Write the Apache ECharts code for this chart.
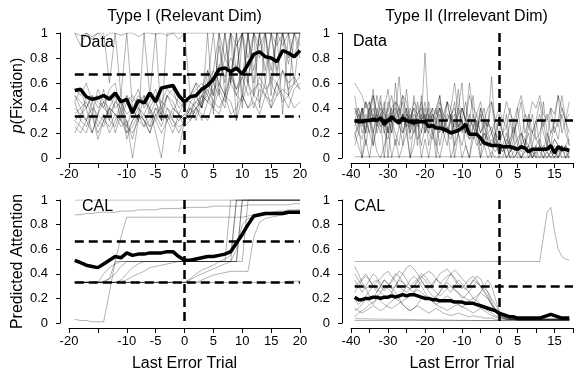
<!DOCTYPE html>
<html><head><meta charset="utf-8">
<script src="https://cdn.jsdelivr.net/npm/echarts@6/dist/echarts.min.js"></script>
<style>html,body{margin:0;padding:0;background:#fff}#c{width:576px;height:374px}</style>
</head><body><div id="c"></div>
<script>
// ---------- DATA ----------
const startTypeI = -19;   // first trial, Type I panels
const startTypeII = -39;  // first trial, Type II panels
const xTicksTypeI = [-20,-10,-5,0,5,10,15,20];       // labelled ticks
const xTicksTypeII = [-40,-30,-20,-10,0,5,15];
const titleTypeI = 'Type I (Relevant Dim)';
const titleTypeII = 'Type II (Irrelevant Dim)';
const criterionTypeI = [0.667, 0.333];
const criterionTypeII = [0.3];

// Top-left: Type I data, individual subjects (t = -19..20)
const dataI_subjects = [
 [1,0.98,1,0.97,1,0.96,1,1,0.98,1,1,0.97,1,1,0.99,1,0.98,1,1,1, 1,1,1,1,1,1,1,1,1,1,1,1,1,1,1,1,1,1,1,1],
 [0.45,0.3,0.5,0.4,0.35,0.55,0.3,0.45,0.5,0.25,0.4,0.3,0.5,0.35,0.45,0.3,0.5,0.4,0.35,0.3, 0.45,0.5,0.4,0.6,0.5,0.7,1,0.6,1,0.5,1,0.7,1,1,0.6,1,1,0.8,1,1],
 [0.3,0.25,0.2,0.35,0.15,0.3,0.4,0.2,0.35,0.3,0,0.3,0.25,0.4,0.2,0,0.35,0.3,0.25,0.28, 0.4,0.35,0.5,0.45,0.6,0.5,0.4,0.7,0.5,0.45,0.6,0.4,0.55,0.5,0.45,0.6,0.5,0.4,0.55,0.6],
 [0.55,0.5,0.6,0.45,0.5,0.4,0.55,0.6,0.35,0.5,0.45,0.55,0.4,0.5,0.45,0.35,0.5,0.55,0.4,0.45, 0.5,0.55,0.6,0.5,0.7,1,0.8,1,0.9,1,1,1,1,1,1,1,1,1,1,1],
 [0.4,0.35,0.3,0.45,0.3,0.25,0.4,0.35,0.3,0.2,0.3,0.35,0.25,0.3,0.4,0.35,0.3,0.4,0.35,0.3, 0.35,0.4,0.3,0.45,0.4,0.35,0.5,0.45,0.3,0.5,0.4,0.45,0.35,0.5,0.4,0.6,0.45,0.5,0.4,0.45],
 [0.3,0.35,0.4,0.2,0.35,0.45,0.3,0.25,0.4,0.15,0.3,0.4,0.3,0.2,0.35,0.4,0.3,0.2,0.35,0.25, 0.3,0.4,0.45,0.6,1,0.5,1,0.6,1,0.4,1,0.5,1,0.6,1,0.7,1,0.5,1,0.8],
 [0.5,0.45,0.4,0.5,0.4,0.45,0.5,0.4,0.45,0.35,0.4,0.5,0.45,0.4,0.5,0.45,0.55,0.5,0.45,0.4, 0.5,0.6,0.55,0.7,0.6,0.75,0.65,0.8,0.7,1,0.8,1,0.9,1,1,0.9,1,1,1,1],
 [1,0.9,1,0.95,1,1,0.6,1,0.5,1,0.4,0.3,1,0.5,1,0.3,1,1,0.95,1, 0.5,0.6,0.4,1,0.35,1,0.5,1,0.3,1,0.6,1,0.4,1,0.5,1,0.35,1,0.6,1],
 [0.2,0.3,0.25,0.35,0.2,0.3,0.25,0.35,0.3,0.25,0.2,0.3,0.35,0.25,0.3,0.2,0.3,0.35,0.3,0.35, 0.3,0.4,0.35,0.3,0.45,0.4,0.5,0.35,0.4,0.5,0.4,0.5,0.45,0.6,0.4,0.5,0.55,0.5,0.6,0.55],
 [0.45,0.55,0.4,0.5,0.45,0.4,0.35,0.45,0.4,0.5,0.35,0.45,0.5,0.4,0.3,0.45,0.4,0.35,0.5,0.4, 0.35,0.5,0.4,0.7,0.5,0.9,0.6,1,0.7,1,0.6,1,0.8,1,0.7,1,0.9,1,0.8,1],
 [null,null,null,null,null,null,null,null,null,null,null,null,null,null,null,null,null,null,0.05,0.3, 0.4,0.45,0.5,0.6,0.7,0.6,0.8,0.7,0.9,1,1,1,1,1,1,1,1,1,1,1],
 [0.35,0.4,0.3,0.2,0.35,0.3,0.4,0.35,0.25,0.3,0.15,0.35,0.3,0.25,0.4,0.3,0.35,0.25,0.3,0.35, 0.4,0.3,0.45,0.5,0.4,0.55,0.45,0.6,0.5,0.65,0.5,0.55,0.6,0.5,0.65,0.6,0.7,0.55,0.6,0.65],
 [0.25,0.2,0.3,0.4,0.25,0.35,0.2,0.3,0.45,0.2,0.25,0.35,0.3,0.2,0.35,0.25,0.4,0.3,0.2,0.3, 0.35,0.45,0.4,0.55,0.45,0.6,0.5,0.7,0.55,0.65,1,0.6,1,0.7,1,0.65,1,0.75,1,0.9],
 [0.5,0.4,0.45,0.35,0.55,0.45,0.4,0.5,0.3,0.45,0.5,0.4,0.35,0.45,0.55,0.4,0.5,0.45,0.35,0.45, 0.45,0.4,0.5,0.45,0.55,0.6,0.5,0.65,0.55,0.7,0.6,0.5,0.65,0.55,0.6,0.5,0.7,0.6,0.65,0.55]
];
const dataI_mean = [0.54,0.55,0.49,0.47,0.48,0.5,0.47,0.52,0.45,0.47,0.36,0.46,0.44,0.52,0.45,0.56,0.57,0.58,0.5,0.45,
 0.49,0.5,0.55,0.58,0.63,0.71,0.72,0.69,0.72,0.67,0.75,0.83,0.85,0.81,0.8,0.77,0.86,0.84,0.81,0.86];

// Top-right: Type II data, individual subjects (t = -39..19)
const dataII_subjects = [
 [0.6,0.55,0.5,0.4,0.45,0.3,0.5,0.35,0.4,0.55,0.3,0.45,0.4,0.5,0.35,0.3,0.45,0.4,0.3,0.84,0.3,0.4,0.35,0.5,0.3,0.45,0.4,0.6,0.35,0.4,0.3,0.5,0.4,0.35,0.45,0.3,0.4,0.45,0.3,
  0.4,0.3,0.45,0.35,0.3,0.4,0.5,0.35,0.3,0.45,0.4,0.5,0.35,0.3,0.4,0.35,0.5,0.4,0.3,0.35],
 [0.2,0.1,0,0.15,0,0.2,0.05,0,0.1,0.25,0,0.15,0,0.1,0.2,0,0.1,0.3,0,0.15,0,0.2,0.1,0,0.15,0.25,0,0.1,0.2,0,0.1,0,0.15,0.3,0,0.1,0,0.05,0,
  0,0,0.1,0,0,0.05,0,0,0,0.1,0,0,0,0.05,0,0,0,0.1,0,0],
 [0.4,0.3,0.35,0.45,0.3,0.4,0.25,0.35,0.3,0.4,0.5,0.3,0.35,0.45,0.25,0.3,0.4,0.35,0.3,0.45,0.3,0.25,0.35,0.4,0.3,0.25,0.2,0.3,0.55,0.2,0.3,0.25,0.15,0.2,0.1,0.15,0.2,0.1,0.05,
  0.1,0.05,0.15,0.1,0,0.05,0.1,0.15,0.05,0,0.1,0.05,0,0.1,0.05,0,0.05,0.1,0,0.05],
 [0.3,0.2,0.4,0.1,0.3,0.5,0.2,0.3,0,0.35,0.2,0.6,0.3,0.1,0.4,0.2,0.3,0.1,0.5,0.2,0.3,0.4,0.1,0.35,0.2,0.45,0.3,0.1,0.4,0.6,0.2,0.3,0.5,0.2,0.4,0.1,0.3,0.2,0.1,
  0.35,0.2,0.1,0.3,0.15,0.4,0.2,0.1,0.35,0.2,0.3,0.1,0.45,0.2,0.1,0.3,0.5,0.2,0.3,0.1],
 [0.25,0.35,0.2,0.3,0.4,0.2,0.35,0.25,0.3,0.2,0.4,0.3,0.25,0.35,0.2,0.3,0.4,0.25,0.3,0.35,0.2,0.3,0.25,0.4,0.2,0.3,0.35,0.2,0.25,0.3,0.2,0.15,0.25,0.2,0.1,0.2,0.15,0.1,0.2,
  0.1,0.05,0.1,0,0.05,0.1,0,0.05,0.1,0,0.05,0,0.1,0.05,0,0.05,0,0.1,0.05,0],
 [0.5,0.3,0.4,0.2,0.45,0.3,0.35,0.5,0.2,0.4,0.3,0.35,0.65,0.3,0.4,0.2,0.5,0.3,0.35,0.25,0.45,0.3,0.4,0.5,0.2,0.35,0.3,0.45,0.2,0.4,0.3,0.6,0.35,0.2,0.4,0.3,0.25,0.45,0.2,
  0.3,0.2,0.35,0.1,0.2,0.3,0.45,0.2,0.3,0.1,0.25,0.35,0.2,0.1,0.4,0.2,0.3,0.5,0.3,0.2],
 [0.15,0.3,0,0.25,0.35,0.1,0.3,0.2,0.4,0,0.3,0.2,0.1,0.35,0.25,0,0.3,0.15,0.2,0.35,0.1,0.25,0,0.3,0.2,0.1,0.35,0,0.2,0.3,0.1,0,0.25,0.15,0,0.3,0.1,0,0.2,
  0,0.1,0,0.05,0.15,0,0,0.1,0,0.05,0,0.1,0,0,0.05,0,0.1,0,0,0.05],
 [0.35,0.4,0.3,0.45,0.35,0.55,0.3,0.4,0.35,0.3,0.4,0.45,0.3,0.35,0.25,0.4,0.3,0.35,0.45,0.3,0.25,0.35,0.3,0.2,0.35,0.45,0.3,0.25,0.4,0.3,0.2,0.3,0.25,0.35,0.2,0.3,0.25,0.65,0.2,
  0.15,0.2,0.1,0.15,0.25,0.1,0.2,0.15,0.1,0.2,0.15,0.1,0.05,0.2,0.1,0.15,0.1,0.05,0.1,0.15],
 [0.01,0.01,0.01,0.01,0.01,0.01,0.01,0.01,0.01,0.01,0.01,0.01,0.01,0.01,0.01,0.01,0.01,0.01,0.01,0.01,0.01,0.01,0.01,0.01,0.01,0.01,0.01,0.01,0.01,0.01,0.01,0.01,0.01,0.01,0.01,0.01,0.01,0.01,0.01,
  0.01,0.01,0.01,0.01,0.01,0.01,0.01,0.01,0.01,0.01,0.01,0.01,0.01,0.01,0.01,0.01,0.01,0.01,0.01,0.01],
 [0.3,0.4,0.25,0.35,0.3,0.2,0.4,0.3,0.25,0.45,0.35,0.3,0.4,0.2,0.3,0.35,0.25,0.45,0.3,0.2,0.35,0.3,0.4,0.25,0.3,0.2,0.35,0.4,0.25,0.3,0.2,0.35,0.25,0.3,0.2,0.25,0.15,0.2,0.1,
  0.15,0.1,0.2,0.05,0.1,0.15,0.05,0.1,0.2,0.05,0.1,0.15,0.05,0.1,0.05,0.15,0.1,0.05,0.1,0.05],
 [0.2,0.25,0.4,0.3,0.2,0.35,0.3,0.45,0.25,0.3,0.2,0.35,0.4,0.3,0.55,0.25,0.35,0.3,0.2,0.4,0.25,0.35,0.3,0.4,0.25,0.2,0.3,0.35,0.25,0.4,0.3,0.2,0.35,0.25,0.3,0.4,0.2,0.25,0.15,
  0.1,0.2,0.25,0.1,0.3,0.15,0.2,0.1,0.25,0.35,0.15,0.2,0.3,0.1,0.2,0.25,0.15,0.35,0.2,0.1],
 [0.4,0.35,0.3,0.2,0.4,0.5,0.35,0.3,0.45,0.2,0.35,0.4,0.3,0.5,0.45,0.3,0.2,0.35,0.4,0.3,0.4,0.2,0.3,0.45,0.35,0.3,0.4,0.2,0.35,0.3,0.45,0.25,0.3,0.2,0.35,0.25,0.3,0.2,0.3,
  0.2,0.3,0.25,0.4,0.2,0.3,0.1,0.35,0.25,0.2,0.3,0.45,0.25,0.35,0.2,0.3,0.25,0.4,0.3,0.45],
 [0.1,0.2,0.15,0.3,0.2,0.1,0.25,0.35,0.2,0.15,0.3,0.1,0.25,0.2,0.35,0.15,0.2,0.3,0.1,0.25,0.2,0.15,0.3,0.1,0.25,0.2,0.15,0.3,0.2,0.1,0.25,0.15,0.2,0.1,0.15,0.2,0.1,0.15,0.1,
  0.05,0.1,0,0.05,0.1,0.05,0,0.05,0.1,0,0.05,0.1,0.05,0,0.05,0.1,0,0.05,0.1,0]
];
const dataII_mean = [0.3,0.29,0.29,0.3,0.3,0.31,0.3,0.32,0.27,0.3,0.33,0.3,0.28,0.32,0.3,0.29,0.28,0.29,0.29,0.29,
 0.25,0.26,0.24,0.24,0.23,0.22,0.2,0.21,0.22,0.24,0.27,0.19,0.19,0.19,0.16,0.12,0.11,0.1,0.1,
 0.1,0.09,0.09,0.09,0.08,0.07,0.09,0.08,0.05,0.07,0.07,0.07,0.07,0.07,0.1,0.04,0.09,0.07,0.07,0.06];

// Bottom-left: CAL model, Type I (t = -19..20)
const calI_subjects = [
 [1,1,1,1,1,1,1,1,1,1,1,1,1,1,1,1,1,1,1,1, 1,1,1,1,1,1,1,1,1,1,1,1,1,1,1,1,1,1,1,1],
 [0.88,0.88,0.89,0.89,0.9,0.9,0.9,0.9,0.91,0.91,0.91,0.92,0.92,0.92,0.92,0.93,0.93,0.93,0.93,0.94, 0.94,0.94,0.94,0.94,0.95,0.95,0.95,0.95,0.95,0.95,0.96,0.96,0.96,0.96,0.96,0.96,0.96,0.96,0.97,0.97],
 [0.03,0.02,0.02,0.01,0.01,0.01,0.25,0.5,0.5,0.5,0.5,0.5,0.5,0.5,0.5,0.5,0.5,0.5,0.5,0.5, 0.5,0.5,0.5,0.5,0.5,0.5,0.5,0.5,0.5,1,1,1,1,1,1,1,1,1,1,1],
 [0.33,0.33,0.33,0.33,0.33,0.34,0.36,0.5,0.7,0.86,0.86,0.86,0.86,0.86,0.86,0.86,0.86,0.86,0.86,0.86, 0.86,0.86,0.86,0.86,0.86,0.86,0.86,0.86,0.86,0.86,0.87,0.88,0.89,0.9,0.9,0.91,0.91,0.92,0.92,0.92],
 [0.33,0.33,0.33,0.33,0.33,0.4,0.45,0.48,0.5,0.5,0.5,0.5,0.5,0.5,0.5,0.5,0.5,0.5,0.5,0.5, 0.5,0.5,0.5,0.5,0.5,0.5,0.5,0.5,1,1,1,1,1,1,1,1,1,1,1,1],
 [0.33,0.33,0.33,0.33,0.33,0.33,0.36,0.4,0.46,0.5,0.5,0.5,0.5,0.5,0.5,0.5,0.5,0.5,0.5,0.5, 0.5,0.5,0.5,0.5,0.5,0.5,0.5,0.5,0.5,1,1,1,1,1,1,1,1,1,1,1],
 [0.33,0.33,0.33,0.33,0.33,0.33,0.33,0.33,0.35,0.4,0.45,0.48,0.5,0.5,0.5,0.5,0.5,0.5,0.5,0.5, 0.5,0.5,0.5,0.5,0.5,0.5,0.5,1,1,1,1,1,1,1,1,1,1,1,1,1],
 [0.33,0.33,0.33,0.33,0.33,0.33,0.33,0.33,0.34,0.35,0.38,0.4,0.42,0.45,0.46,0.47,0.48,0.49,0.5,0.5, 0.5,0.5,0.5,0.5,0.5,0.5,0.5,0.5,0.5,0.5,1,1,1,1,1,1,1,1,1,1],
 [0.33,0.33,0.33,0.33,0.33,0.33,0.33,0.33,0.33,0.33,0.33,0.33,0.33,0.33,0.33,0.33,0.33,0.33,0.33,0.33, 0.36,0.4,0.43,0.45,0.47,0.5,0.52,0.55,1,1,1,1,1,1,1,1,1,1,1,1],
 [0.33,0.33,0.33,0.33,0.33,0.33,0.33,0.33,0.33,0.33,0.33,0.33,0.33,0.33,0.33,0.33,0.33,0.33,0.33,0.33, 0.35,0.38,0.4,0.42,0.44,0.46,0.48,0.5,0.6,0.8,0.85,0.86,0.87,0.88,0.89,0.9,0.9,0.91,0.91,0.92],
 [0.33,0.33,0.33,0.33,0.33,0.33,0.33,0.33,0.33,0.33,0.33,0.33,0.33,0.33,0.33,0.33,0.33,0.33,0.33,0.33, 0.33,0.33,0.35,0.37,0.39,0.4,0.41,0.42,0.42,0.42,0.42,0.7,0.82,0.85,0.86,0.87,0.88,0.89,0.9,0.9],
 [0.33,0.33,0.33,0.33,0.33,0.33,0.33,0.33,0.33,0.33,0.33,0.33,0.33,0.33,0.33,0.33,0.33,0.33,0.33,0.33, 0.33,0.33,0.33,0.33,0.33,0.33,0.33,0.33,0.33,0.33,0.33,0.33,0.33,0.33,0.33,0.33,0.33,0.34,0.34,0.34]
];
const calI_mean = [0.51,0.49,0.47,0.46,0.45,0.48,0.51,0.54,0.53,0.57,0.55,0.56,0.56,0.57,0.57,0.57,0.58,0.58,0.54,0.51,
 0.51,0.52,0.53,0.54,0.54,0.55,0.56,0.58,0.65,0.72,0.8,0.87,0.88,0.89,0.89,0.89,0.89,0.9,0.9,0.9];

// Bottom-right: CAL model, Type II (t = -39..19)
const calII_subjects = [
 [0.5,0.5,0.5,0.5,0.5,0.5,0.5,0.5,0.5,0.5,0.5,0.5,0.5,0.5,0.5,0.5,0.5,0.5,0.5,0.5,0.5,0.5,0.5,0.5,0.5,0.5,0.5,0.5,0.5,0.5,0.5,0.5,0.5,0.5,0.5,0.5,0.5,0.5,0.5,
  0.5,0.5,0.5,0.5,0.5,0.5,0.5,0.5,0.5,0.5,0.5,0.5,0.7,0.9,0.94,0.75,0.6,0.54,0.52,0.51],
 [0.46,0.4,0.33,0.28,0.22,0.2,0.25,0.3,0.35,0.32,0.28,0.3,0.36,0.4,0.45,0.47,0.44,0.4,0.35,0.3,0.28,0.32,0.36,0.33,0.3,0.28,0.25,0.3,0.35,0.32,0.28,0.25,0.2,0.18,0.15,0.12,0.1,0.08,0.06,
  0.05,0.04,0.03,0.03,0.03,0.02,0.02,0.02,0.02,0.02,0.02,0.02,0.02,0.02,0.02,0.02,0.02,0.02,0.02,0.02],
 [0.35,0.3,0.25,0.3,0.35,0.4,0.37,0.32,0.28,0.3,0.33,0.38,0.42,0.4,0.35,0.3,0.33,0.36,0.4,0.38,0.34,0.3,0.35,0.4,0.42,0.44,0.4,0.35,0.3,0.28,0.32,0.36,0.38,0.35,0.3,0.25,0.2,0.15,0.1,
  0.06,0.05,0.04,0.04,0.03,0.03,0.03,0.03,0.03,0.03,0.03,0.03,0.03,0.03,0.03,0.03,0.03,0.03,0.03,0.03],
 [0.2,0.15,0.18,0.22,0.26,0.3,0.28,0.25,0.22,0.2,0.25,0.3,0.35,0.33,0.3,0.27,0.25,0.3,0.34,0.3,0.26,0.22,0.2,0.25,0.3,0.35,0.4,0.37,0.32,0.3,0.27,0.3,0.35,0.33,0.3,0.28,0.25,0.2,0.15,
  0.1,0.07,0.05,0.04,0.04,0.03,0.03,0.03,0.03,0.03,0.03,0.03,0.03,0.03,0.03,0.03,0.03,0.03,0.03,0.03],
 [0.1,0.12,0.15,0.2,0.18,0.15,0.2,0.25,0.3,0.28,0.25,0.22,0.2,0.25,0.3,0.35,0.38,0.35,0.3,0.25,0.2,0.18,0.22,0.25,0.3,0.33,0.3,0.27,0.25,0.22,0.2,0.18,0.15,0.2,0.25,0.22,0.2,0.15,0.12,
  0.08,0.06,0.05,0.04,0.04,0.04,0.03,0.03,0.03,0.03,0.03,0.03,0.03,0.03,0.03,0.03,0.03,0.03,0.03,0.03],
 [0.3,0.33,0.36,0.4,0.35,0.3,0.25,0.3,0.35,0.32,0.28,0.25,0.2,0.15,0.12,0.1,0.12,0.15,0.2,0.22,0.2,0.18,0.15,0.13,0.12,0.1,0.12,0.14,0.15,0.13,0.12,0.1,0.08,0.1,0.12,0.1,0.08,0.06,0.05,
  0.04,0.04,0.03,0.03,0.03,0.02,0.02,0.02,0.02,0.02,0.02,0.02,0.02,0.02,0.02,0.02,0.02,0.02,0.02,0.02],
 [0.05,0.08,0.1,0.12,0.15,0.17,0.2,0.18,0.15,0.13,0.12,0.14,0.16,0.18,0.2,0.22,0.25,0.27,0.25,0.22,0.2,0.18,0.15,0.17,0.2,0.22,0.2,0.18,0.15,0.13,0.15,0.18,0.2,0.22,0.25,0.3,0.35,0.3,0.2,
  0.1,0.05,0.04,0.03,0.03,0.03,0.03,0.03,0.03,0.03,0.03,0.03,0.03,0.03,0.03,0.03,0.03,0.03,0.03,0.03],
 [0.25,0.3,0.35,0.38,0.35,0.3,0.33,0.36,0.4,0.42,0.38,0.34,0.3,0.27,0.25,0.28,0.3,0.33,0.37,0.4,0.42,0.4,0.36,0.32,0.35,0.38,0.4,0.43,0.4,0.36,0.33,0.3,0.34,0.38,0.36,0.3,0.25,0.18,0.1,
  0.06,0.05,0.04,0.03,0.03,0.03,0.03,0.03,0.03,0.03,0.03,0.03,0.03,0.03,0.03,0.03,0.03,0.03,0.03,0.03],
 [0.12,0.1,0.08,0.1,0.12,0.14,0.12,0.1,0.12,0.15,0.18,0.2,0.18,0.15,0.12,0.1,0.12,0.14,0.12,0.1,0.08,0.1,0.12,0.1,0.08,0.07,0.06,0.07,0.08,0.07,0.06,0.05,0.06,0.05,0.05,0.04,0.04,0.04,0.03,
  0.03,0.03,0.03,0.03,0.03,0.03,0.03,0.03,0.03,0.03,0.03,0.03,0.03,0.03,0.03,0.03,0.03,0.03,0.03,0.03],
 [0.4,0.35,0.3,0.28,0.3,0.33,0.35,0.3,0.26,0.3,0.35,0.4,0.38,0.33,0.3,0.28,0.3,0.35,0.38,0.35,0.3,0.28,0.25,0.22,0.25,0.28,0.3,0.27,0.24,0.2,0.22,0.26,0.3,0.33,0.3,0.26,0.22,0.15,0.1,
  0.05,0.04,0.03,0.03,0.03,0.03,0.03,0.03,0.03,0.03,0.03,0.03,0.03,0.03,0.03,0.03,0.03,0.03,0.03,0.03],
 [0.02,0.02,0.02,0.02,0.02,0.02,0.02,0.02,0.02,0.02,0.02,0.02,0.02,0.02,0.02,0.02,0.02,0.02,0.02,0.02,0.02,0.02,0.02,0.02,0.02,0.02,0.02,0.02,0.02,0.02,0.02,0.02,0.02,0.02,0.02,0.02,0.02,0.02,0.02,
  0.02,0.02,0.02,0.02,0.02,0.02,0.02,0.02,0.02,0.02,0.02,0.02,0.02,0.02,0.02,0.02,0.02,0.02,0.02,0.02],
 [0.035,0.035,0.034,0.034,0.033,0.033,0.032,0.032,0.031,0.031,0.03,0.03,0.03,0.029,0.029,0.028,0.028,0.027,0.027,0.026,0.026,0.025,0.025,0.025,0.024,0.024,0.023,0.023,0.022,0.022,0.022,0.021,0.021,0.02,0.02,0.02,0.02,0.02,0.02,
  0.02,0.02,0.02,0.02,0.02,0.02,0.02,0.02,0.02,0.02,0.02,0.02,0.02,0.02,0.02,0.02,0.02,0.02,0.02,0.02]
];
const calII_mean = [0.21,0.19,0.19,0.2,0.2,0.21,0.21,0.2,0.21,0.21,0.22,0.21,0.22,0.23,0.22,0.23,0.23,0.22,0.21,0.2,
 0.2,0.19,0.19,0.18,0.18,0.18,0.18,0.17,0.17,0.17,0.16,0.16,0.16,0.15,0.14,0.13,0.12,0.11,0.1,
 0.08,0.07,0.06,0.05,0.05,0.04,0.04,0.04,0.04,0.04,0.04,0.04,0.05,0.06,0.07,0.06,0.05,0.04,0.04,0.04];

// ---------- CHART ----------
const FONT = '"Liberation Sans", Arial, Helvetica, sans-serif';
const GRAY = 'rgba(0,0,0,0.3)';
function pairs(start, vals) { return vals.map((v, i) => [start + i, v]); }

const grids = [
  {left: 69, top: 33, width: 231, height: 125},
  {left: 351, top: 33, width: 231, height: 125},
  {left: 69, top: 200, width: 231, height: 123},
  {left: 351, top: 200, width: 231, height: 123}
];

function xAxisFor(i, typeII, bottom) {
  const shown = typeII ? xTicksTypeII : xTicksTypeI;
  return {
    type: 'value', gridIndex: i, min: typeII ? -40 : -20, max: 20, interval: 5,
    offset: 5,
    axisLine: {show: true, onZero: false, lineStyle: {color: '#000', width: 1}},
    axisTick: {show: true, length: 5, lineStyle: {color: '#000'}},
    splitLine: {show: false},
    axisLabel: {color: '#000', fontSize: 13, fontFamily: FONT, margin: bottom ? 7 : 5, showMinLabel: true, showMaxLabel: true,
      formatter: v => shown.indexOf(v) >= 0 ? String(v) : ''},
    name: bottom ? 'Last Error Trial' : '',
    nameLocation: 'middle', nameGap: 28,
    nameTextStyle: {color: '#000', fontSize: 16, fontFamily: FONT}
  };
}
function yAxisFor(i, name) {
  return {
    type: 'value', gridIndex: i, min: 0, max: 1, interval: 0.2, offset: 9,
    axisLine: {show: true, onZero: false, lineStyle: {color: '#000', width: 1}},
    axisTick: {show: true, length: 4, lineStyle: {color: '#000'}},
    splitLine: {show: false},
    axisLabel: {color: '#000', fontSize: 13, fontFamily: FONT, margin: 12},
    name: name, nameLocation: 'middle', nameGap: 27, nameRotate: 90,
    nameTextStyle: {color: '#000', fontSize: 16, fontFamily: FONT,
      rich: {i: {fontStyle: 'italic', fontSize: 16, fontFamily: FONT, color: '#000'}}}
  };
}

const series = [];
function addPanel(idx, start, subjects, mean, crit, xEnd) {
  subjects.forEach(s => series.push({
    type: 'line', xAxisIndex: idx, yAxisIndex: idx, data: pairs(start, s),
    symbol: 'none', silent: true, z: 2, animation: false,
    lineStyle: {color: GRAY, width: 1}
  }));
  const ml = crit.map(c => [{coord: [start, c]}, {coord: [xEnd, c]}]);
  ml.push([{coord: [0, 1]}, {coord: [0, 0]}]);
  series.push({
    type: 'line', xAxisIndex: idx, yAxisIndex: idx, data: [], z: 3, clip: false, silent: true, animation: false,
    markLine: {symbol: ['none', 'none'], silent: true, animation: false, label: {show: false},
      lineStyle: {color: '#000', width: 2.5, type: [9, 5]}, emphasis: {disabled: true}, data: ml}
  });
  series.push({
    type: 'line', xAxisIndex: idx, yAxisIndex: idx, data: pairs(start, mean),
    symbol: 'none', silent: true, z: 4, animation: false,
    lineStyle: {color: '#000', width: 3.5}
  });
}
addPanel(0, startTypeI, dataI_subjects, dataI_mean, criterionTypeI, 20);
addPanel(1, startTypeII, dataII_subjects, dataII_mean, criterionTypeII, 20);
addPanel(2, startTypeI, calI_subjects, calI_mean, criterionTypeI, 20);
addPanel(3, startTypeII, calII_subjects, calII_mean, criterionTypeII, 20);

const txt = (x, y, text, size, align) => ({type: 'text', x: x, y: y, silent: true,
  style: {text: text, fill: '#000', font: size + 'px ' + FONT, textAlign: align || 'left', textVerticalAlign: 'middle'}});

const chart = echarts.init(document.getElementById('c'), null, {renderer: 'canvas'});
chart.setOption({
  animation: false,
  backgroundColor: '#fff',
  grid: grids,
  xAxis: [xAxisFor(0, false, false), xAxisFor(1, true, false), xAxisFor(2, false, true), xAxisFor(3, true, true)],
  yAxis: [yAxisFor(0, '{i|p}(Fixation)'), yAxisFor(1, ''), yAxisFor(2, 'Predicted Attention'), yAxisFor(3, '')],
  series: series,
  graphic: [
    txt(184.5, 17, titleTypeI, 16, 'center'),
    txt(466.5, 17, titleTypeII, 16, 'center'),
    txt(80, 43, 'Data', 16),
    txt(353, 42, 'Data', 16),
    txt(82, 207, 'CAL', 16),
    txt(354, 207, 'CAL', 16)
  ]
});
</script>
</body></html>
